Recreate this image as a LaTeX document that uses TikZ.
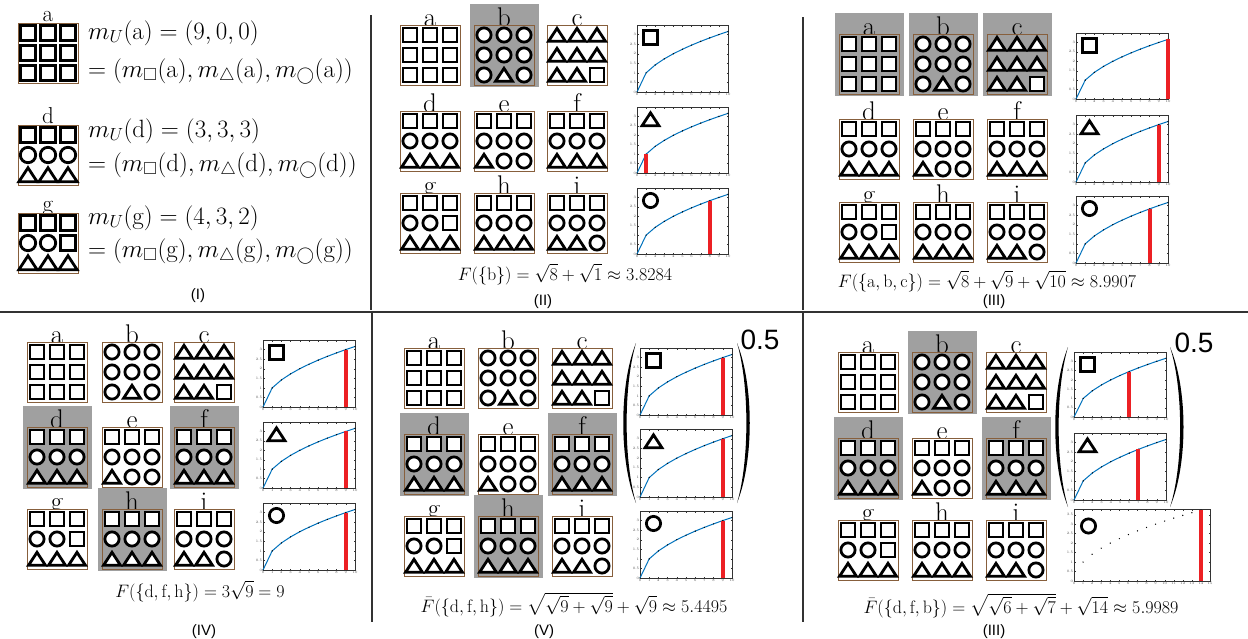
\RequirePackage{fix-cm}
\documentclass[tikz,border=0pt]{standalone}
\usepackage{amsmath,amssymb}
\usepackage{fontspec}
\newfontfamily\sansf{Liberation Sans}
\definecolor{boxbrown}{RGB}{135,95,60}
\definecolor{hlgray}{RGB}{160,160,160}
\definecolor{mblue}{RGB}{0,114,189}
\definecolor{mred}{RGB}{236,32,36}
\definecolor{rulegray}{RGB}{50,50,50}
\newcommand\symh{7}
\newcommand\lbloff{1}
\newcommand\lblsize{27}
\tikzset{
 symline/.style={draw=black,line width=2.8pt,fill=white},
 boxline/.style={draw=boxbrown,line width=0.9pt},
 lbl/.style={font=\fontsize{\lblsize}{\lblsize}\selectfont,anchor=base,inner sep=0pt},
 frame/.style={draw=black!80,line width=0.5pt},
 tick/.style={draw=black!80,line width=0.35pt},
 ticklbl/.style={font=\fontsize{3.5}{3.5}\selectfont,text=black!70,inner sep=0pt},
 curve/.style={draw=mblue,line width=1pt},
 redbar/.style={draw=mred,line width=4pt},
 fml/.style={font=\fontsize{18}{18}\selectfont,anchor=base,inner sep=0pt},
 mtext/.style={font=\fontsize{25}{25}\selectfont,anchor=base west,inner sep=0pt},
 plbl/.style={font=\sansf\fontsize{15}{15}\selectfont,anchor=base,inner sep=0pt},
 expo/.style={font=\sansf\fontsize{28}{28}\selectfont,inner sep=0pt},
 divider/.style={draw=rulegray,line width=1.2pt},
}
\newcommand\symS[2]{\draw[symline] ({#1-\symh},{#2-\symh}) rectangle ({#1+\symh},{#2+\symh});}
\newcommand\symC[2]{\draw[symline] ({#1},{#2}) circle[radius={\symh+0.1}];}
\newcommand\symT[2]{\draw[symline,line join=miter] ({#1-1.2*\symh},{#2+0.88*\symh}) -- ({#1},{#2-0.95*\symh}) -- ({#1+1.2*\symh},{#2+0.88*\symh}) -- cycle;}
\expandafter\def\csname symconta\endcsname{{S,S,S}{S,S,S}{S,S,S}}
\expandafter\def\csname symcontb\endcsname{{C,C,C}{C,C,C}{C,T,C}}
\expandafter\def\csname symcontc\endcsname{{T,T,T}{T,T,T}{T,T,S}}
\expandafter\def\csname symcontd\endcsname{{S,S,S}{C,C,C}{T,T,T}}
\expandafter\def\csname symconte\endcsname{{S,S,S}{C,C,C}{T,C,C}}
\expandafter\def\csname symcontf\endcsname{{S,S,S}{C,C,C}{T,T,T}}
\expandafter\def\csname symcontg\endcsname{{S,S,S}{C,C,S}{T,T,T}}
\expandafter\def\csname symconth\endcsname{{S,S,S}{C,C,C}{T,T,T}}
\expandafter\def\csname symconti\endcsname{{S,S,S}{C,C,C}{T,T,C}}
\newcommand\drawsyms[5]{%
 \foreach \s [count=\i] in {#1}{\csname sym\s\endcsname{#4+20*\i-10}{#5+10}}%
 \foreach \s [count=\i] in {#2}{\csname sym\s\endcsname{#4+20*\i-10}{#5+30}}%
 \foreach \s [count=\i] in {#3}{\csname sym\s\endcsname{#4+20*\i-10}{#5+50}}%
}
\newcommand\symbox[5]{%
 \ifnum#5=1 \fill[hlgray] ({#2-4},{#3-21}) rectangle ({#2+65},{#3+62});\fi
 \node[lbl] (#1#4) at ({#2+30},{#3+\lbloff}) {#4};
 \ifnum#5=1 \draw[boxline,fill=hlgray] (#2,#3) rectangle ({#2+60},{#3+60});%
 \else \draw[boxline,fill=white] (#2,#3) rectangle ({#2+60},{#3+60});\fi
 \expandafter\expandafter\expandafter\drawsyms\csname symcont#4\endcsname{#2}{#3}%
}
% #1 L, #2 T, #3 R, #4 B, #5 xmax, #6 ymax, #7 sym, #8 bar, #9 mode
\newcommand\sqplot[9]{%
 \draw[frame] (#1,#2) rectangle (#3,#4);
 \foreach \k in {0,...,#5}{%
   \pgfmathsetmacro\xx{#1+(#3-#1)*\k/#5}%
   \draw[tick] (\xx,#4) -- (\xx,{#4-1.5}) (\xx,#2) -- (\xx,{#2+1.5});
   \node[ticklbl,anchor=north] (tx-#1-#2-\k) at (\xx,{#4+0.8}) {\k};
 }%
 \foreach \v [count=\j] in {0,0.5,1,1.5,2,2.5,3,3.5}{%
   \ifdim\v pt<#6pt
     \pgfmathsetmacro\yy{#4-(#4-#2)*\v/#6}%
     \draw[tick] (#1,\yy) -- ({#1+1.5},\yy) (#3,\yy) -- ({#3-1.5},\yy);
     \node[ticklbl,anchor=east] (ty-#1-#2-\j) at ({#1-0.8},\yy) {\v};
   \fi
 }%
 \ifnum#9=1
   \draw[curve] plot[samples at={0,...,#5}] ({#1+(#3-#1)*\x/#5},{#4-(#4-#2)*sqrt(\x)/#6});
   \foreach \k in {0,...,#5}{\fill ({#1+(#3-#1)*\k/#5},{#4-(#4-#2)*sqrt(\k)/#6}) circle[radius=0.7];}
 \else
   \foreach \k in {1,...,14}{\fill ({#1+(#3-#1)*\k/#5},{#4-(#4-#2)*sqrt(\k)/#6}) circle[radius=0.7];}
 \fi
 \ifnum#8>0 \draw[redbar] ({#1+(#3-#1)*#8/#5},#4) -- ({#1+(#3-#1)*#8/#5},{#4-(#4-#2)*sqrt(#8)/#6});\fi
 \ifnum#9=1 \csname sym#7\endcsname{#1+13.5}{#2+12.5}%
 \else \csname sym#7\endcsname{#1+14.5}{#2+17}\fi
}
\begin{document}
\begin{tikzpicture}[x=1pt,y=-1pt]
\useasboundingbox (0,0) rectangle (1248,638);
\fill[white] (0,0) rectangle (1248,638);
% dividers
\draw[divider] (371,15) -- (371,310);
\draw[divider] (803,17) -- (803,310);
\draw[divider] (0,312) -- (1248,312);
\draw[divider] (372,312) -- (372,622);
\draw[divider] (803,312) -- (803,622);
% ---------- panel I
\renewcommand\symh{7.6}\renewcommand\lbloff{-2}\renewcommand\lblsize{23}
\symbox{P1}{18}{23}{a}{0}
\symbox{P1}{18}{125}{d}{0}
\symbox{P1}{18}{213}{g}{0}
\renewcommand\symh{7}\renewcommand\lbloff{1}\renewcommand\lblsize{27}
\node[mtext] (mUa) at (88,39) {$m_U(\mathrm{a})=(9,0,0)$};
\node[mtext] (mUa2) at (88,77) {$=(m_{\Box}(\mathrm{a}),m_{\triangle}(\mathrm{a}),m_{\bigcirc}(\mathrm{a}))$};
\node[mtext] (mUd) at (88,137) {$m_U(\mathrm{d})=(3,3,3)$};
\node[mtext] (mUd2) at (88,171) {$=(m_{\Box}(\mathrm{d}),m_{\triangle}(\mathrm{d}),m_{\bigcirc}(\mathrm{d}))$};
\node[mtext] (mUg) at (88,224) {$m_U(\mathrm{g})=(4,3,2)$};
\node[mtext] (mUg2) at (88,257) {$=(m_{\Box}(\mathrm{g}),m_{\triangle}(\mathrm{g}),m_{\bigcirc}(\mathrm{g}))$};
\node[plbl] (capI) at (198,299) {(I)};
% ---------- panel II
\symbox{P2}{400}{25}{a}{0}\symbox{P2}{474}{25}{b}{1}\symbox{P2}{547}{25}{c}{0}
\symbox{P2}{400}{111}{d}{0}\symbox{P2}{474}{111}{e}{0}\symbox{P2}{547}{111}{f}{0}
\symbox{P2}{400}{193}{g}{0}\symbox{P2}{474}{193}{h}{0}\symbox{P2}{547}{193}{i}{0}
\sqplot{637}{25}{728}{92}{10}{3.5}{S}{0}{1}
\sqplot{637}{107}{728}{173}{10}{3.5}{T}{1}{1}
\sqplot{637}{188}{728}{254}{10}{3.5}{C}{8}{1}
\node[fml] (fII) at (565,280) {$F(\{\mathrm{b}\})=\sqrt{8}+\sqrt{1}\approx 3.8284$};
\node[plbl] (capII) at (543,305) {(II)};
% ---------- panel III (top)
\symbox{P3}{839}{34}{a}{1}\symbox{P3}{913}{34}{b}{1}\symbox{P3}{987}{34}{c}{1}
\symbox{P3}{839}{119}{d}{0}\symbox{P3}{913}{119}{e}{0}\symbox{P3}{987}{119}{f}{0}
\symbox{P3}{839}{202}{g}{0}\symbox{P3}{913}{202}{h}{0}\symbox{P3}{987}{202}{i}{0}
\sqplot{1076}{33}{1168}{99}{10}{3.5}{S}{10}{1}
\sqplot{1076}{115}{1168}{182}{10}{3.5}{T}{9}{1}
\sqplot{1076}{196}{1168}{263}{10}{3.5}{C}{8}{1}
\node[fml] (fIII) at (987,287) {$F(\{\mathrm{a},\mathrm{b},\mathrm{c}\})=\sqrt{8}+\sqrt{9}+\sqrt{10}\approx 8.9907$};
\node[plbl] (capIII) at (994,305) {(III)};
% ---------- panel IV
\symbox{P4}{27}{342}{a}{0}\symbox{P4}{102}{342}{b}{0}\symbox{P4}{174}{342}{c}{0}
\symbox{P4}{27}{427}{d}{1}\symbox{P4}{102}{427}{e}{0}\symbox{P4}{174}{427}{f}{1}
\symbox{P4}{27}{509}{g}{0}\symbox{P4}{102}{509}{h}{1}\symbox{P4}{174}{509}{i}{0}
\sqplot{263}{340}{355}{407}{10}{3.5}{S}{9}{1}
\sqplot{263}{422}{355}{488}{10}{3.5}{T}{9}{1}
\sqplot{263}{503}{355}{570}{10}{3.5}{C}{9}{1}
\node[fml] (fIV) at (200,597) {$F(\{\mathrm{d},\mathrm{f},\mathrm{h}\})=3\sqrt{9}=9$};
\node[plbl] (capIV) at (204,635) {(IV)};
% ---------- panel V
\symbox{P5}{404}{348}{a}{0}\symbox{P5}{478}{348}{b}{0}\symbox{P5}{552}{348}{c}{0}
\symbox{P5}{404}{434}{d}{1}\symbox{P5}{478}{434}{e}{0}\symbox{P5}{552}{434}{f}{1}
\symbox{P5}{404}{516}{g}{0}\symbox{P5}{478}{516}{h}{1}\symbox{P5}{552}{516}{i}{0}
\sqplot{640}{348}{732}{415}{10}{3.5}{S}{9}{1}
\sqplot{640}{429}{732}{497}{10}{3.5}{T}{9}{1}
\sqplot{640}{511}{732}{578}{10}{3.5}{C}{9}{1}
\fill (636,343) .. controls (619,385) and (619,461) .. (636,503) .. controls (623.5,461) and (623.5,385) .. (636,343) -- cycle;
\fill (737,343) .. controls (754,385) and (754,461) .. (737,503) .. controls (749.5,461) and (749.5,385) .. (737,343) -- cycle;
\node[expo] (eV) at (760,340) {0.5};
\node[fml] (fV) at (574,612) {$\bar{F}(\{\mathrm{d},\mathrm{f},\mathrm{h}\})=\sqrt{\sqrt{9}+\sqrt{9}}+\sqrt{9}\approx 5.4495$};
\node[plbl] (capV) at (544,635) {(V)};
% ---------- panel III (bottom)
\symbox{P6}{838}{352}{a}{0}\symbox{P6}{912}{352}{b}{1}\symbox{P6}{986}{352}{c}{0}
\symbox{P6}{838}{438}{d}{1}\symbox{P6}{912}{438}{e}{0}\symbox{P6}{986}{438}{f}{1}
\symbox{P6}{838}{520}{g}{0}\symbox{P6}{912}{520}{h}{0}\symbox{P6}{986}{520}{i}{0}
\sqplot{1074}{352}{1166}{417}{10}{3.5}{S}{6}{1}
\sqplot{1074}{433}{1166}{500}{10}{3.5}{T}{7}{1}
\sqplot{1074}{509}{1210}{581}{15}{3.8}{C}{14}{0}
\fill (1068,347) .. controls (1051,389) and (1051,465) .. (1068,507) .. controls (1055.5,465) and (1055.5,389) .. (1068,347) -- cycle;
\fill (1170,347) .. controls (1188,389) and (1188,465) .. (1170,507) .. controls (1183.5,465) and (1183.5,389) .. (1170,347) -- cycle;
\node[expo] (eVI) at (1194,343) {0.5};
\node[fml] (fVI) at (1021,613) {$\bar{F}(\{\mathrm{d},\mathrm{f},\mathrm{b}\})=\sqrt{\sqrt{6}+\sqrt{7}}+\sqrt{14}\approx 5.9989$};
\node[plbl] (capVI) at (994,635) {(III)};
\end{tikzpicture}
\end{document}
